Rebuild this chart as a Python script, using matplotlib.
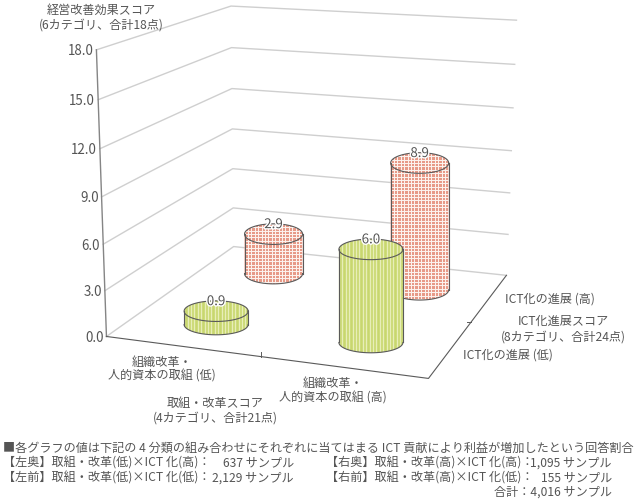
import numpy as np
import matplotlib
matplotlib.use("Agg")
import matplotlib.pyplot as plt
import matplotlib.patheffects as pe
from matplotlib.patches import Polygon

plt.rcParams['font.family'] = ['Noto Sans CJK JP', 'DejaVu Sans']

# data
y_ticks = [0, 3, 6, 9, 12, 15, 18]
torikumi = [0, 0, 1, 1]      # 0 = low, 1 = high
ict = [0, 1, 0, 1]
scores = [0.9, 2.9, 6.0, 8.9]

# where each cylinder stands on the floor, as a share of the box
bar_u = [0.268, 0.25, 0.763, 0.765]
bar_v = [0.21, 0.75, 0.22, 0.75]

TXT = "#555555"
GRID = "#cfcfcf"
EDGE = "#5a5a5a"

# where the box corners sit in the picture, used to fit the camera
left_front = [(107, 337), (105, 291), (103, 245), (102, 197), (100, 148), (98, 99), (96, 50)]
left_back = [(235, 246), (232, 207), (231, 169), (232, 129), (232, 89), (232, 48), (232, 6)]
right_back = [(507, 275), (508, 235), (510, 193), (511, 151), (513, 108), (515, 64), (516, 20)]
right_front_floor = (428, 378)

world, pix = [], []
for i, z in enumerate(y_ticks):
    world += [(0, 0, z), (0, 1, z), (1, 1, z)]
    pix += [left_front[i], left_back[i], right_back[i]]
world.append((1, 0, 0))
pix.append(right_front_floor)

A = []
for (X, Y, Z), (u, v) in zip(world, pix):
    A.append([X, Y, Z, 1, 0, 0, 0, 0, -u * X, -u * Y, -u * Z, -u])
    A.append([0, 0, 0, 0, X, Y, Z, 1, -v * X, -v * Y, -v * Z, -v])
P = np.linalg.svd(np.array(A, float))[2][-1].reshape(3, 4)


def project(x, y, z):
    q = P @ np.array([x, y, z, 1.0])
    return q[0] / q[2], q[1] / q[2]


fig = plt.figure(figsize=(6.37, 5.01), dpi=100)
ax = fig.add_axes([0, 0, 1, 1])
ax.set_xlim(0, 637)
ax.set_ylim(501, 0)
ax.axis("off")

# back walls
for i, z in enumerate(y_ticks):
    pts = [project(0, 0, z), project(0, 1, z), project(1, 1, z)]
    ax.plot(*zip(*pts), color=GRID, lw=1.0, zorder=1)
    x0, y0 = pts[0]
    ax.text(x0 - 3, y0 + 1.5, "%.1f" % z, ha="right", va="center", fontsize=9.6, color=TXT)

ax.plot(*zip(project(0, 0, 0), project(0, 0, 18)), color="#858585", lw=1.0, zorder=2)
floor = [project(0, 0, 0), project(1, 0, 0), project(1, 1, 0)]
ax.plot(*zip(*floor), color=EDGE, lw=0.8, zorder=2)

# floor ticks
tx, ty = project(0.5, 0, 0)
ax.plot([tx, tx], [ty, ty - 5], color=EDGE, lw=0.7, zorder=2)
tx, ty = project(1, 0.5, 0)
ax.plot([tx - 4, tx], [ty, ty], color=EDGE, lw=0.7, zorder=2)


def cylinder(xc, y0, y1, rx, ry, kind, zo):
    t = np.linspace(0, np.pi, 60)
    low = np.c_[xc + rx * np.cos(t), y0 + ry * np.sin(t)]
    top_back = np.c_[xc - rx * np.cos(t), y1 - ry * np.sin(t)]
    base = "#c8d76e" if kind == 0 else "#e79a88"
    fill = Polygon(np.r_[low, top_back], closed=True, fc=base, ec="none", zorder=zo)
    ax.add_patch(fill)
    xs = np.arange(xc - rx, xc + rx + 1, 3.4)
    ys = np.arange(y1 - ry, y0 + ry + 1, 3.4)
    if kind == 0:
        ln = ax.vlines(xs, y1 - ry, y0 + ry, color="#e8eeb8", lw=1.0, zorder=zo + 0.1)
        ln.set_clip_path(fill)
    else:
        ln = ax.vlines(xs, y1 - ry, y0 + ry, color="#fdf4f0", lw=0.7, zorder=zo + 0.1)
        ln.set_clip_path(fill)
        ln = ax.hlines(ys, xc - rx, xc + rx, color="#fdf4f0", lw=0.7, zorder=zo + 0.1)
        ln.set_clip_path(fill)
    # outline
    tt = np.linspace(0, 2 * np.pi, 120)
    ax.plot(xc + rx * np.cos(tt), y1 + ry * np.sin(tt), color=EDGE, lw=0.8, zorder=zo + 0.2)
    ax.plot(low[:, 0], low[:, 1], color=EDGE, lw=0.8, zorder=zo + 0.2)
    ax.plot([xc - rx, xc - rx], [y0, y1], color=EDGE, lw=0.8, zorder=zo + 0.2)
    ax.plot([xc + rx, xc + rx], [y0, y1], color=EDGE, lw=0.8, zorder=zo + 0.2)


# far bars first
order = sorted(range(len(scores)), key=lambda k: -ict[k])
for n, k in enumerate(order):
    xb, yb = project(bar_u[k], bar_v[k], 0)
    xt, yt = project(bar_u[k], bar_v[k], scores[k])
    rx = 29 if ict[k] else 32
    cylinder(xb, yb, yt, rx, 10.3, ict[k], 5 + n)
    ax.text(xb, yt - 10, "%.1f" % scores[k], ha="center", va="center", fontsize=9.6,
            color=TXT, zorder=20,
            path_effects=[pe.withStroke(linewidth=2, foreground="white")])

labels = [
    (101, 10, "経営改善効果スコア"), (101, 25, "(6カテゴリ、合計18点)"),
    (162, 362, "組織改革・"), (162, 376, "人的資本の取組 (低)"),
    (333, 383, "組織改革・"), (333, 398, "人的資本の取組 (高)"),
    (215, 403, "取組・改革スコア"), (215, 418, "(4カテゴリ、合計21点)"),
    (550, 299, "ICT化の進展 (高)"),
    (563, 321, "ICT化進展スコア"), (563, 337, "(8カテゴリ、合計24点)"),
    (508, 355, "ICT化の進展 (低)"),
]
for x, y, s in labels:
    ax.text(x, y, s, ha="center", va="center", fontsize=8.7, color=TXT)

# footer
FS = 8.72
ax.text(3, 448, "■各グラフの値は下記の 4 分類の組み合わせにそれぞれに当てはまる ICT 貢献により利益が増加したという回答割合",
        ha="left", va="center", fontsize=FS, color=TXT)
rows = [
    (3, 294, 463, "【左奥】取組・改革(低)×ICT 化(高)：", "637 サンプル"),
    (3, 294, 478, "【左前】取組・改革(低)×ICT 化(低)：", "2,129 サンプル"),
    (326, 612, 463, "【右奥】取組・改革(高)×ICT 化(高)：", "1,095 サンプル"),
    (326, 612, 478, "【右前】取組・改革(高)×ICT 化(低)：", "155 サンプル"),
]
for xl, xr, y, a, b in rows:
    ax.text(xl, y, a, ha="left", va="center", fontsize=FS, color=TXT)
    ax.text(xr, y, b, ha="right", va="center", fontsize=FS, color=TXT)
ax.text(612, 492, "合計：4,016 サンプル", ha="right", va="center", fontsize=FS, color=TXT)

fig.savefig("out.png", dpi=100)
